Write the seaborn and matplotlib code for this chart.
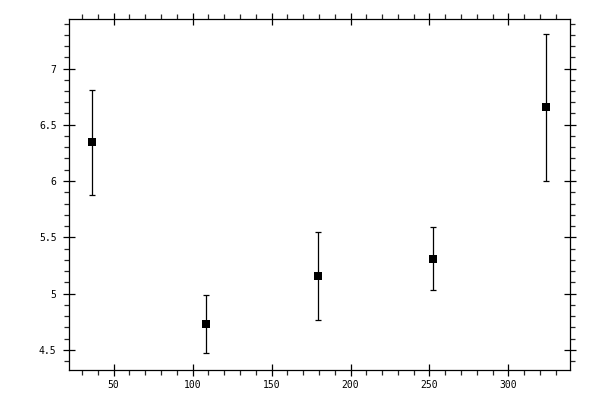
import numpy as np
import pandas as pd
import seaborn as sns
import matplotlib.pyplot as plt
from matplotlib.ticker import MultipleLocator

x_vals = [36.3, 108.2, 179.5, 252.0, 324.0]
y_vals = [6.343, 4.73, 5.157, 5.31, 6.654]
y_err = [0.47, 0.26, 0.39, 0.28, 0.65]

df = pd.DataFrame({'x': x_vals, 'y': y_vals, 'err': y_err})

sns.set_style('white')
plt.rcParams['font.family'] = ['DejaVu Sans Mono']

fig = plt.figure(figsize=(6, 4), dpi=100)
ax = fig.add_axes([0.115, 0.075, 0.835, 0.8775])

# error bars first, squares on top
ax.errorbar(df['x'], df['y'], yerr=df['err'], fmt='none', ecolor='black',
            elinewidth=0.9, capsize=2.2, capthick=0.9)
sns.scatterplot(data=df, x='x', y='y', marker='s', s=30, color='black',
                edgecolor='black', linewidth=0, ax=ax, zorder=3)

ax.set_xlim(21.7, 339)
ax.set_ylim(4.32, 7.44)
ax.set_xlabel('')
ax.set_ylabel('')

ax.xaxis.set_major_locator(MultipleLocator(50))
ax.xaxis.set_minor_locator(MultipleLocator(10))
ax.yaxis.set_major_locator(MultipleLocator(0.5))
ax.yaxis.set_minor_locator(MultipleLocator(0.1))
ax.yaxis.set_major_formatter(plt.FuncFormatter(lambda v, p: '%g' % v))

ax.tick_params(which='major', direction='inout', length=8, width=0.9,
               bottom=True, left=True, top=True, right=True,
               labelsize=7, pad=3, colors='black')
ax.tick_params(which='minor', direction='out', length=3.5, width=0.9,
               bottom=True, left=True, top=True, right=True)
ax.tick_params(axis='y', which='major', pad=5)

for s in ax.spines.values():
    s.set_linewidth(0.9)
    s.set_color('black')

fig.savefig('out.png', dpi=100)
